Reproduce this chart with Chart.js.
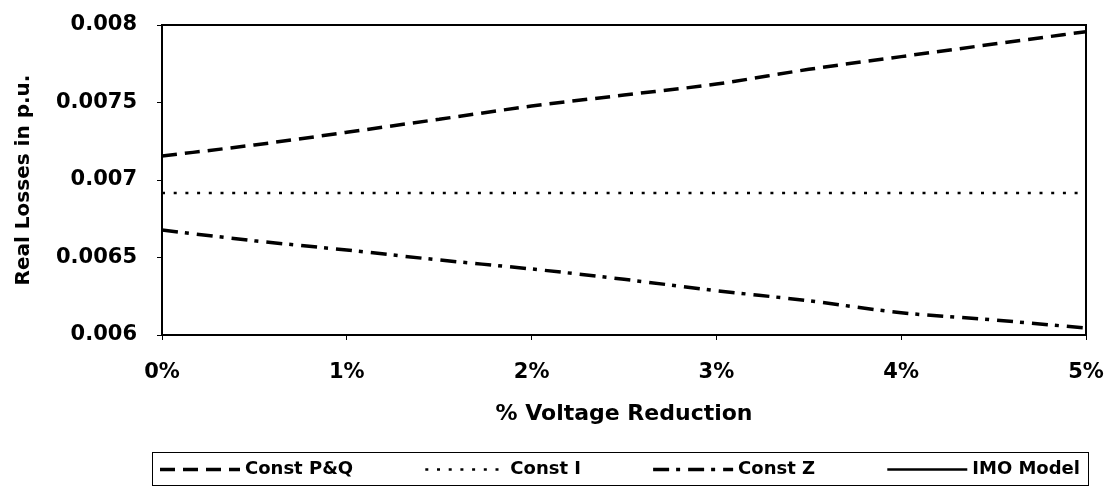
<!DOCTYPE html>
<html>
<head>
<meta charset="utf-8">
<script src="https://cdn.jsdelivr.net/npm/chart.js@4.4.1/dist/chart.umd.min.js"></script>
<style>
  html, body { margin: 0; padding: 0; background: #fff; }
  #wrap { width: 1109px; height: 491px; }
</style>
</head>
<body>
<div id="wrap"><canvas id="lossChart"></canvas></div>
<script>
// % voltage reduction (x positions, in %)
const reduction = [0, 0.5, 1, 1.5, 2, 2.5, 3, 3.5, 4, 4.5, 5];
const constPQ = [0.007155, 0.007226, 0.007308, 0.007392, 0.007477, 0.007548, 0.007619, 0.007714, 0.007796, 0.007877, 0.007957];
const constI = [0.006916, 0.006916, 0.006916, 0.006916, 0.006916, 0.006916, 0.006916, 0.006916, 0.006916, 0.006916, 0.006916];
const constZ = [0.006677, 0.006608, 0.006548, 0.006484, 0.006426, 0.006359, 0.006286, 0.006221, 0.006144, 0.006097, 0.006045];
const imoModel = []; // no IMO Model line shows inside the plotted range
const yTicks = [0.006, 0.0065, 0.007, 0.0075, 0.008];
const xTicks = [0, 1, 2, 3, 4, 5];

const pts = (vals) => vals.map((v, i) => ({ x: reduction[i], y: v }));

const fontFamily = '"DejaVu Sans", Verdana, sans-serif';

// plot frame + boxed legend drawn under the axis title
const frame = {
    id: 'frame',
    afterDraw(chart) {
        const c = chart.ctx;
        const a = chart.chartArea;
        c.save();
        c.strokeStyle = '#000';
        c.lineWidth = 2;
        c.strokeRect(a.left, a.top, a.right - a.left, a.bottom - a.top);

        // legend box
        const bx = 152, by = 452, bw = 936, bh = 33;
        c.lineWidth = 1;
        c.strokeRect(bx + 0.5, by + 0.5, bw, bh);

        c.font = 'bold 18px ' + fontFamily;
        c.fillStyle = '#000';
        c.textBaseline = 'middle';
        const sample = 80, gap = 5, edge = 8;
        const sets = chart.data.datasets;
        const widths = sets.map(d => c.measureText(d.label).width);
        const used = widths.reduce((s, w) => s + w + sample + gap, 0);
        const space = (bw - 2 * edge - used) / (sets.length - 1);
        let x = bx + edge;
        const y = by + bh / 2 + 1;
        sets.forEach((d, i) => {
            c.beginPath();
            c.lineWidth = d.borderWidth;
            c.setLineDash(d.borderDash || []);
            c.moveTo(x, y);
            c.lineTo(x + sample, y);
            c.stroke();
            c.setLineDash([]);
            c.fillText(d.label, x + sample + gap, y);
            x += sample + gap + widths[i] + space;
        });
        c.restore();
    }
};

const ctx = document.getElementById('lossChart').getContext('2d');
const myChart = new Chart(ctx, {
    type: 'line',
    data: {
        datasets: [{
            label: 'Const P&Q',
            data: pts(constPQ),
            borderColor: '#000',
            borderWidth: 3.5,
            borderDash: [15, 8],
            pointRadius: 0,
            cubicInterpolationMode: 'monotone'
        }, {
            label: 'Const I',
            data: pts(constI),
            borderColor: '#000',
            borderWidth: 2.5,
            borderDash: [3, 8.7],
            pointRadius: 0
        }, {
            label: 'Const Z',
            data: pts(constZ),
            borderColor: '#000',
            borderWidth: 3.5,
            borderDash: [16, 7, 4, 8],
            pointRadius: 0,
            cubicInterpolationMode: 'monotone'
        }, {
            label: 'IMO Model',
            data: pts(imoModel),
            borderColor: '#000',
            borderWidth: 2.5,
            pointRadius: 0
        }]
    },
    options: {
        responsive: true,
        maintainAspectRatio: false,
        animation: false,
        layout: { padding: { top: 25, right: 23, left: 0, bottom: 46 } },
        plugins: {
            tooltip: { enabled: false },
            legend: { display: false }
        },
        scales: {
            x: {
                type: 'linear',
                min: 0,
                max: 5,
                afterBuildTicks: (s) => { s.ticks = xTicks.map(v => ({ value: v })); },
                afterFit: (s) => { s.height = 110; s.paddingLeft = 0; s.paddingRight = 0; },
                ticks: {
                    color: '#000',
                    font: { family: fontFamily, weight: 'bold', size: 21 },
                    padding: 20,
                    maxRotation: 0,
                    callback: (v) => v + '%'
                },
                grid: { drawOnChartArea: false, color: '#000', tickLength: 5 },
                border: { color: '#000', width: 2 },
                title: {
                    display: true,
                    text: '% Voltage Reduction',
                    color: '#000',
                    font: { family: fontFamily, weight: 'bold', size: 22 },
                    padding: { top: 0, bottom: 18 }
                }
            },
            y: {
                min: 0.006,
                max: 0.008,
                afterBuildTicks: (s) => { s.ticks = yTicks.map(v => ({ value: v })); },
                afterFit: (s) => { s.width = 162; s.paddingTop = 0; s.paddingBottom = 0; },
                ticks: {
                    color: '#000',
                    font: { family: fontFamily, weight: 'bold', size: 21 },
                    padding: 20,
                    callback: (v) => String(v)
                },
                grid: { drawOnChartArea: false, color: '#000', tickLength: 5 },
                border: { color: '#000', width: 2 },
                title: {
                    display: true,
                    text: 'Real Losses in p.u.',
                    color: '#000',
                    font: { family: fontFamily, weight: 'bold', size: 20 },
                    padding: { top: 12, bottom: 0 }
                }
            }
        }
    },
    plugins: [frame]
});
</script>
</body>
</html>
